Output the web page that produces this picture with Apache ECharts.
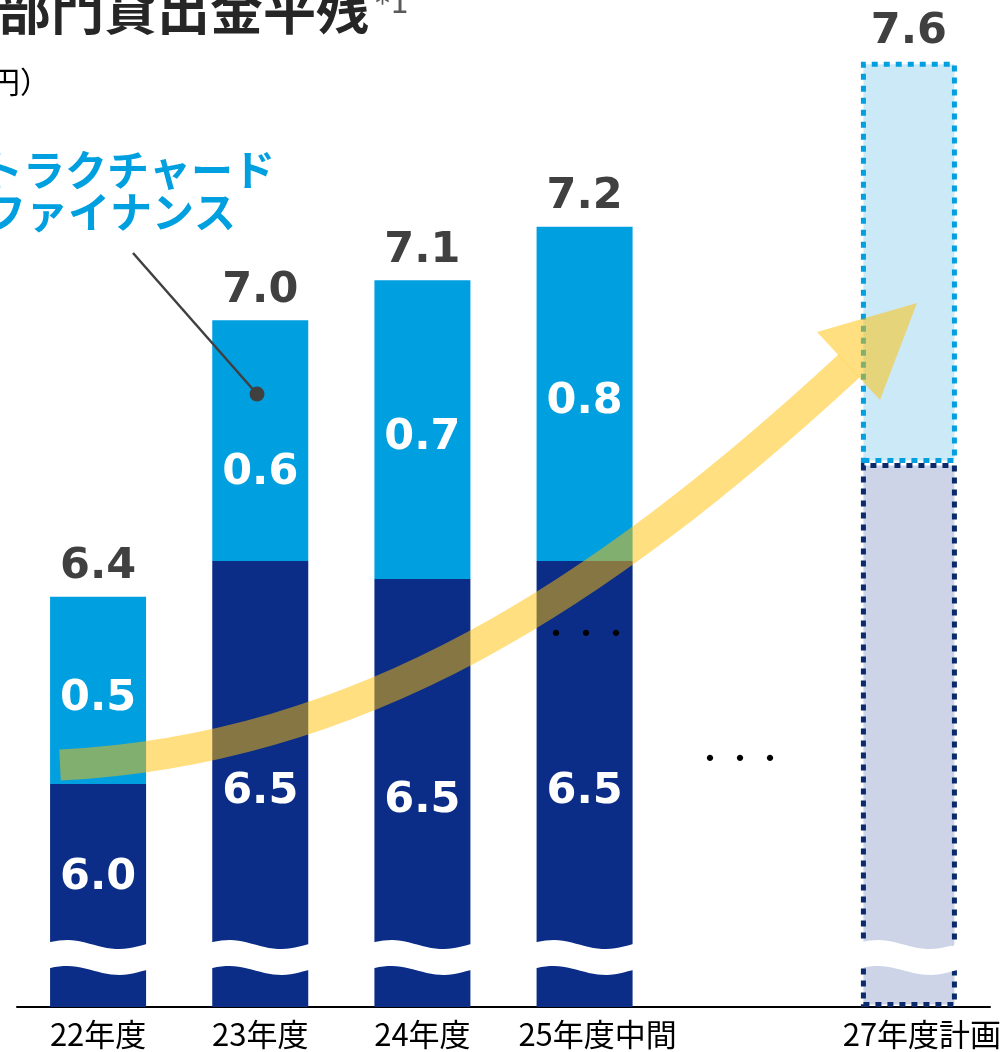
<!DOCTYPE html>
<html><head><meta charset="utf-8">
<script src="https://cdn.jsdelivr.net/npm/echarts@6/dist/echarts.min.js"></script>
<style>html,body{margin:0;padding:0;background:#fff}#c{width:1005px;height:1052px}</style>
</head><body><div id="c"></div>
<script>
// ---- data ----
const categories = ['22年度', '23年度', '24年度', '25年度中間', '', '27年度計画'];
const baseValues = [6.00, 6.50, 6.46, 6.50, null, 6.72];   // dark segment tops (兆円)
const sfValues = [0.42, 0.54, 0.67, 0.75, null, 0.90];      // structured finance segment
const baseLabels = ['6.0', '6.5', '6.5', '6.5', '', ''];
const sfLabels = ['0.5', '0.6', '0.7', '0.8', '', ''];
const totalLabels = ['6.4', '7.0', '7.1', '7.2', '', '7.6'];
const planIndex = 5;

// ---- axis break (wavy band) levels ----
const breakHigh = 5.640, breakLow = 5.582;

const NAVY = '#0B2D87', BLUE = '#009FE0';
const numFont = '"DejaVu Sans", sans-serif';
const jpFont = '"Noto Sans CJK JP", sans-serif';
const NUM_SIZE = 43;

const planDark = { color: '#CED4E7', borderColor: '#0A2A6B', borderWidth: 5, borderType: [6, 6] };
const planLight = { color: '#CCE9F7', borderColor: '#00A0E0', borderWidth: 5, borderType: [6, 6] };

const darkData = baseValues.map((v, i) => v == null ? '-' :
  (i === planIndex ? { value: v, itemStyle: planDark } :
   (i === 0 ? { value: v, label: { offset: [0, -18] } } : v)));
const lightData = sfValues.map((v, i) => v == null ? '-' :
  (i === planIndex ? { value: v, itemStyle: planLight } :
   (i === 1 ? { value: v, label: { offset: [0, 32] } } : v)));
const totalData = baseValues.map(v => v == null ? '-' : 0);
const waveData = baseValues.map((v, i) => v == null ? null : [i, breakLow]).filter(d => d);

const xData = categories.map(c => (c.length > 4 ? { value: c, textStyle: { padding: [0, 0, 0, 26] } } : c));

const chart = echarts.init(document.getElementById('c'));
chart.setOption({
  animation: false,
  backgroundColor: '#fff',
  grid: { left: 17, right: 15, top: 26, bottom: 45, containLabel: false, outerBoundsMode: 'none' },
  xAxis: {
    type: 'category', data: xData,
    axisLine: { lineStyle: { color: '#000', width: 2 } },
    axisTick: { show: false },
    axisLabel: { interval: 0, fontSize: 31, color: '#000', fontFamily: jpFont, margin: 12 }
  },
  yAxis: { type: 'value', min: 5.5, max: 7.7, startValue: 5.5, show: false, splitLine: { show: false } },
  series: [
    {
      type: 'bar', stack: 'a', barWidth: 96, data: darkData,
      itemStyle: { color: NAVY },
      label: { show: true, position: 'inside', offset: [0, 8], color: '#fff', fontSize: NUM_SIZE, fontWeight: 'bold', fontFamily: numFont,
        formatter: p => baseLabels[p.dataIndex] }
    },
    {
      type: 'bar', stack: 'a', barWidth: 96, data: lightData,
      itemStyle: { color: BLUE },
      label: { show: true, position: 'inside', offset: [0, 8], color: '#fff', fontSize: NUM_SIZE, fontWeight: 'bold', fontFamily: numFont,
        formatter: p => sfLabels[p.dataIndex] }
    },
    {
      type: 'bar', stack: 'a', barWidth: 96, data: totalData,
      itemStyle: { color: 'transparent' },
      label: { show: true, position: 'top', distance: 8, color: '#404040', fontSize: NUM_SIZE, fontWeight: 'bold', fontFamily: numFont,
        formatter: p => totalLabels[p.dataIndex] }
    },
    {
      type: 'custom', data: waveData, z: 5, clip: false,
      encode: { x: 0, y: 1 },
      renderItem: function (params, api) {
        const idx = api.value(0);
        const top = api.coord([idx, breakHigh]);
        const bot = api.coord([idx, breakLow]);
        const halfW = 52, A = 4.5, pts = [];
        const n = 24;
        for (let k = 0; k <= n; k++) {
          const t = k / n;
          pts.push([top[0] - halfW + 2 * halfW * t, top[1] - A * Math.cos(2 * Math.PI * (t - 0.2))]);
        }
        for (let k = n; k >= 0; k--) {
          const t = k / n;
          pts.push([bot[0] - halfW + 2 * halfW * t, bot[1] - A * Math.cos(2 * Math.PI * (t - 0.2))]);
        }
        return { type: 'polygon', shape: { points: pts }, style: { fill: '#fff' } };
      }
    }
  ],
  graphic: [
    { type: 'bezierCurve', z: 100, shape: { x1: 60, y1: 765, cpx1: 360, cpy1: 750, cpx2: 599, cpy2: 597, x2: 849, y2: 366 },
      style: { stroke: 'rgba(255,192,0,0.5)', lineWidth: 31, fill: null, lineCap: 'butt' } },
    { type: 'polygon', z: 100, shape: { points: [[817, 332], [917, 303], [880, 400]] },
      style: { fill: 'rgba(255,192,0,0.5)' } },
    { type: 'line', z: 101, shape: { x1: 133, y1: 253, x2: 257, y2: 394 }, style: { stroke: '#404040', lineWidth: 2.5 } },
    { type: 'circle', z: 101, shape: { cx: 257, cy: 394, r: 7.5 }, style: { fill: '#404040' } },
    { type: 'text', z: 101, style: { text: '・・・', x: 586, y: 633, fontSize: 30, fontFamily: jpFont, fill: '#000', textAlign: 'center', textVerticalAlign: 'middle' } },
    { type: 'text', z: 101, style: { text: '・・・', x: 740, y: 758, fontSize: 30, fontFamily: jpFont, fill: '#000', textAlign: 'center', textVerticalAlign: 'middle' } },
    { type: 'text', z: 101, style: { text: '部門貸出金平残', x: -2, y: 10, fontSize: 53, fontWeight: 'bold', fontFamily: jpFont, fill: '#262626', textVerticalAlign: 'middle' } },
    { type: 'text', z: 101, style: { text: '*1', x: 375, y: 20, fontSize: 30, fontFamily: numFont, fill: '#595959', textVerticalAlign: 'bottom' } },
    { type: 'text', z: 101, style: { text: '（兆円）', x: -70, y: 82, fontSize: 30, fontFamily: jpFont, fill: '#000', textVerticalAlign: 'middle' } },
    { type: 'text', z: 101, style: { text: 'ストラクチャード', x: -61, y: 170, fontSize: 42, fontWeight: 'bold', fontFamily: jpFont, fill: '#00A0E0', textVerticalAlign: 'middle' } },
    { type: 'text', z: 101, style: { text: 'ファイナンス', x: -16, y: 212, fontSize: 42, fontWeight: 'bold', fontFamily: jpFont, fill: '#00A0E0', textVerticalAlign: 'middle' } }
  ]
});
</script>
</body></html>
